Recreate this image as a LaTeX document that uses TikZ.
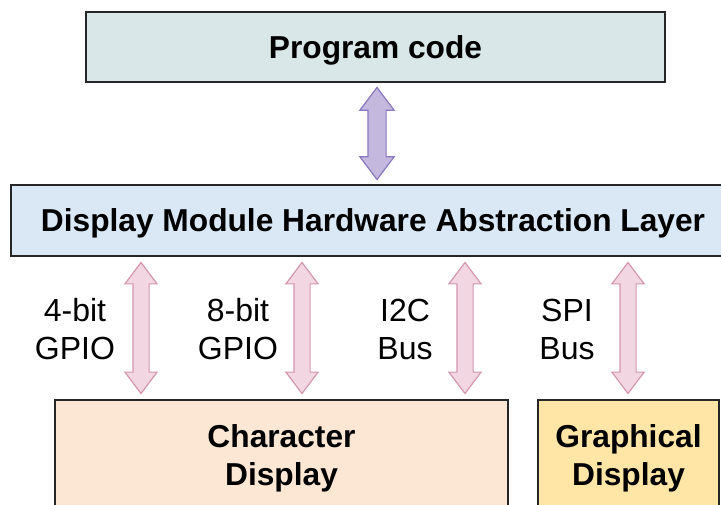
\documentclass[tikz,border=0pt]{standalone}
\usepackage{fontspec}
\setmainfont{Liberation Sans}
\usetikzlibrary{shapes.arrows}
\definecolor{progfill}{HTML}{D9E7E8}
\definecolor{halfill}{HTML}{DAE8F6}
\definecolor{charfill}{HTML}{FCE7D5}
\definecolor{gfxfill}{HTML}{FFE6A6}
\definecolor{purplefill}{HTML}{C4B8DF}
\definecolor{purpleline}{HTML}{8A78C0}
\definecolor{pinkfill}{HTML}{F2D7E2}
\definecolor{pinkline}{HTML}{D497B0}
\begin{document}
\begin{tikzpicture}[x=1pt,y=-1pt,
  every node/.style={font=\fontsize{32}{38}\selectfont},
  block/.style={draw=black!85,line width=1.2pt,inner sep=0pt,text depth=0pt,
    font=\fontsize{31.7}{38}\selectfont\bfseries,align=center},
  busarrow/.style={double arrow,draw,line width=1.2pt,inner xsep=0pt,inner ysep=7.5pt,
    text height=0pt,text depth=0pt,double arrow head extend=8pt,double arrow tip angle=74,sloped},
  buslabel/.style={align=center}]
\useasboundingbox (0,0) rectangle (721,505);
% boxes
\node[block,fill=progfill,minimum width=579pt,minimum height=70pt] (prog) at (375.5,47) {Program code};
\node[block,fill=halfill,minimum width=724pt,minimum height=71pt] (hal) at (373,220.5) {Display Module Hardware Abstraction Layer};
\node[block,fill=charfill,minimum width=453pt,minimum height=110pt] (chr) at (281.5,455) {Character\\Display};
\node[block,fill=gfxfill,minimum width=181pt,minimum height=110pt] (gfx) at (628.5,455) {Graphical\\Display};
% program code <-> HAL
\coordinate (apitop) at (prog.south -| 377,0);
\coordinate (apibot) at (hal.north -| 377,0);
\path (apitop) -- node[busarrow,fill=purplefill,draw=purpleline,minimum height=92pt,
  inner ysep=8.5pt] (api) {} (apibot);
% buses
\foreach \x/\lx/\name/\txt in {141/75/gpiofour/{4-bit\\GPIO},302/238/gpioeight/{8-bit\\GPIO},465/405/itwoc/{I2C\\Bus},628/567/spi/{SPI\\Bus}} {
  \coordinate (\name top) at (hal.south -| \x,0);
  \coordinate (\name bot) at (chr.north -| \x,0);
  \path (\name top) -- node[busarrow,fill=pinkfill,draw=pinkline,minimum height=131pt] (\name) {} (\name bot);
  \node[buslabel] (\name lbl) at (\lx,329) {\txt};
}
\end{tikzpicture}
\end{document}
